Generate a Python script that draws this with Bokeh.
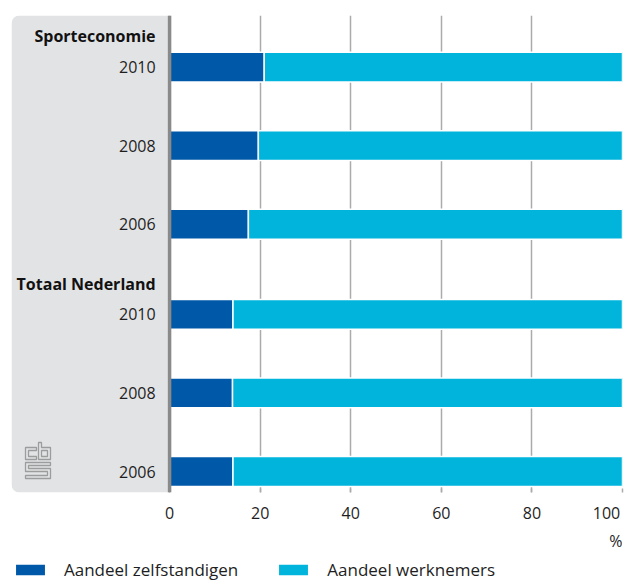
from bokeh.plotting import figure
from bokeh.models import (ColumnDataSource, Range1d, FixedTicker, BoxAnnotation,
                          Span, Legend, LegendItem)
from bokeh.layouts import column
from bokeh.core.properties import value
from bokeh.embed import file_html
from bokeh.resources import INLINE

# ---------------- data ----------------
groups = ["Sporteconomie", "Totaal Nederland"]
years = ["2010", "2008", "2006"]
sport_zelf = [20.9, 19.6, 17.4]
sport_werk = [79.1, 80.4, 82.6]
nl_zelf = [14.0, 13.9, 14.0]
nl_werk = [86.0, 86.1, 86.0]
series_names = ["Aandeel zelfstandigen", "Aandeel werknemers"]
x_ticks = [0, 20, 40, 60, 80, 100]
unit = "%"

# ---------------- layout helpers ----------------
ROW = 1.0
GROUP_GAP = 0.146
HEADER_OFF = 0.39
PAD_BOTTOM = 0.267
PAD_TOP = 0.656
LABEL_SPACE = 34.9   # room (in % units) left of 0 for the label panel

group_vals = {"Sporteconomie": (sport_zelf, sport_werk),
              "Totaal Nederland": (nl_zelf, nl_werk)}

ys, yr_lbl, zelf, werk = [], [], [], []
header_y = {}
pos = 0.0
for gi, g in enumerate(reversed(groups)):
    if gi > 0:
        pos += GROUP_GAP
    z, w = group_vals[g]
    for yr, zv, wv in zip(reversed(years), reversed(z), reversed(w)):
        ys.append(pos)
        yr_lbl.append(yr)
        zelf.append(zv)
        werk.append(wv)
        pos += ROW
    header_y[g] = ys[-1] + HEADER_OFF

src = ColumnDataSource(dict(y=ys, zelf=zelf, werk=werk))
year_src = ColumnDataSource(dict(x=[0] * len(ys), y=ys, t=yr_lbl))
head_src = ColumnDataSource(dict(x=[0] * len(groups),
                                 y=[header_y[g] for g in groups], t=groups))

DARK = "#0058a8"
LIGHT = "#00b4dc"
FONT = "Open Sans"
TXT = "#1e1e1e"

W, H_MAIN, H_FOOT = 628, 531, 50
B_LEFT, B_RIGHT, B_TOP, B_BOTTOM = 11, 6, 15, 39

y0, y1 = -PAD_BOTTOM, ys[-1] + PAD_TOP
xr = Range1d(-LABEL_SPACE, 100)
p = figure(width=W, height=H_MAIN,
           x_range=xr, y_range=Range1d(y0, y1),
           output_backend="svg", toolbar_location=None,
           min_border_left=B_LEFT, min_border_right=B_RIGHT,
           min_border_top=B_TOP, min_border_bottom=B_BOTTOM)
p.outline_line_color = None
p.background_fill_color = "white"
p.border_fill_color = "white"
p.yaxis.visible = False

# gray label panel (from frame left edge to x = 0)
panel = BoxAnnotation(right=0, fill_color="#e2e3e5", fill_alpha=1.0,
                      line_color=None, level="underlay",
                      border_radius=dict(top_left=8, bottom_left=8,
                                         top_right=0, bottom_right=0))
p.add_layout(panel)

# CBS pictogram (decoration), drawn in pixel design units then mapped
px_x = (W - B_LEFT - B_RIGHT) / (100 + LABEL_SPACE)
px_y = (H_MAIN - B_TOP - B_BOTTOM) / (y1 - y0)
logo_left, logo_bottom = 14, 14          # px from panel's left/bottom edge
logo_h = 36
logo_shapes = [
    [(11, 5), (0, 5), (0, 17), (11, 17), (11, 14), (3, 14), (3, 8), (11, 8)],
    [(13, 0), (16, 0), (16, 5), (25, 5), (25, 17), (13, 17)],
    [(16, 8), (22, 8), (22, 14), (16, 14)],
    [(25, 20), (0, 20), (0, 29), (22, 29), (22, 33), (0, 33), (0, 36),
     (25, 36), (25, 26), (3, 26), (3, 23), (25, 23)],
]
lxs = [[-LABEL_SPACE + (logo_left + a) / px_x for a, b in s] for s in logo_shapes]
lys = [[y0 + (logo_bottom + logo_h - b) / px_y for a, b in s] for s in logo_shapes]
p.patches(lxs, lys, fill_color=None, line_color="#9c9c9c", line_width=1.3)

rs = p.hbar_stack(["zelf", "werk"], y="y", height=0.38, source=src,
                  fill_color=[DARK, LIGHT], line_color="white", line_width=1.5)

# value axis line at 0
p.add_layout(Span(location=0, dimension="height", line_color="#8a8a8a",
                  line_width=3.5))

# category labels
p.text(x="x", y="y", text="t", source=year_src, x_offset=-14,
       text_align="right", text_baseline="middle",
       text_font=value(FONT), text_font_size=value("16px"), text_color=TXT)
p.text(x="x", y="y", text="t", source=head_src, x_offset=-14,
       text_align="right", text_baseline="middle",
       text_font=value(FONT), text_font_size=value("16px"),
       text_font_style="bold", text_color="#111111")

# grid
p.ygrid.visible = False
p.xgrid.ticker = FixedTicker(ticks=x_ticks)
p.xgrid.grid_line_color = "#ababab"
p.xgrid.grid_line_width = 1.5

# x axis
xa = p.xaxis[0]
xa.ticker = FixedTicker(ticks=x_ticks)
xa.axis_line_color = None
xa.major_tick_in = 4
xa.major_tick_out = 0
xa.major_tick_line_color = "#ababab"
xa.major_tick_line_width = 1.5
xa.minor_tick_line_color = None
xa.major_label_standoff = 9
xa.major_label_text_font = FONT
xa.major_label_text_font_size = "16px"
xa.major_label_text_color = TXT
xa.major_label_overrides = {100: "100" + "\u00a0" * 2}

# ---------------- footer: unit + legend ----------------
f = figure(width=W, height=H_FOOT, x_range=xr, y_range=Range1d(0, H_FOOT),
           output_backend="svg", toolbar_location=None,
           min_border_left=B_LEFT, min_border_right=B_RIGHT,
           min_border_top=0, min_border_bottom=0)
f.outline_line_color = None
f.axis.visible = False
f.grid.visible = False

f.text(x=[x_ticks[-1]], y=[H_FOOT - 9], text=[unit], text_align="right",
       text_baseline="middle", text_font=value(FONT),
       text_font_size=value("16px"), text_color=TXT)

# legend proxies (kept outside the visible range)
d0 = f.hbar(y=[-100], left=[0], right=[1], height=1, fill_color=DARK,
            line_color="white", line_width=1.5)
d1 = f.hbar(y=[-100], left=[0], right=[1], height=1, fill_color=LIGHT,
            line_color="white", line_width=1.5)

legend = Legend(items=[LegendItem(label=series_names[0], renderers=[d0]),
                       LegendItem(label=series_names[1], renderers=[d1])],
                location=(0, 0), orientation="horizontal",
                glyph_width=38, glyph_height=15, label_standoff=15,
                spacing=36, padding=0, margin=0,
                border_line_color=None, background_fill_alpha=0,
                label_text_font=FONT, label_text_font_size="17px",
                label_text_color=TXT)
f.add_layout(legend)

layout = column(p, f, spacing=0)
open("out.html", "w").write(file_html(layout, INLINE))
